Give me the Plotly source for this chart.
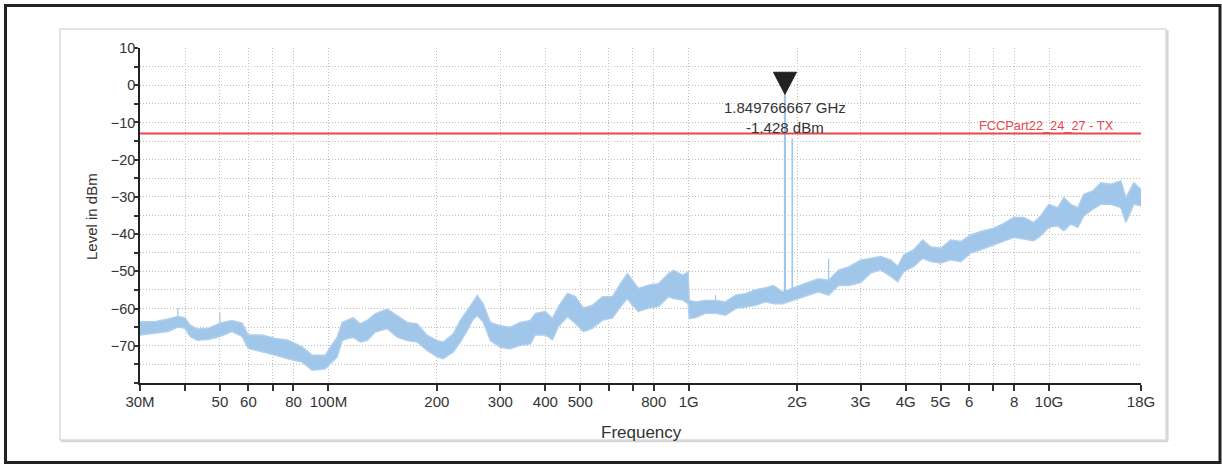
import math
import plotly.graph_objects as go

# ---------------- data ----------------
freq_mhz = [30.0, 33.0, 35.9, 38.2, 40.0, 41.3, 43.2, 46.4, 50.0, 54.0, 57.6, 59.9,
            65.5, 71.1, 77.3, 84.5, 90.1, 98.0, 101.2, 105.8, 109.2, 112.7, 117.2,
            122.5, 128.1, 134.8, 145.6, 155.2, 165.5, 176.4, 188.1, 200.5, 208.3,
            222.1, 232.3, 242.9, 252.4, 259.0, 269.1, 281.4, 300.0, 319.8, 341.0,
            363.5, 375.4, 400.0, 418.5, 434.9, 460.7, 484.9, 510.4, 540.4, 576.1,
            614.2, 646.3, 675.9, 697.8, 725.1, 773.1, 824.4, 878.9, 907.6, 961.2,
            996.0, 1004.0, 1044.6, 1113.0, 1187.0, 1265.0, 1349.0, 1438.0, 1533.0,
            1634.0, 1720.0, 1822.0, 2018.0, 2151.0, 2293.0, 2445.0, 2606.0, 2779.0,
            3000.0, 3199.0, 3411.0, 3636.0, 3802.0, 3951.0, 4212.0, 4461.0, 4694.0,
            5005.0, 5335.0, 5687.0, 6063.0, 6463.0, 7024.0, 7487.0, 7983.0, 8510.0,
            9072.0, 9487.0, 9985.0, 10575.0, 10991.0, 11494.0, 12020.0, 12488.0,
            13230.0, 13925.0, 14845.0, 15827.0, 16341.0, 17200.0, 18000.0]

level_max = [-63.5, -63.5, -62.8, -62.1, -62.5, -64.4, -65.5, -65.3, -63.9, -63.2, -63.9, -67.1,
             -67.1, -68.0, -68.5, -70.3, -72.5, -72.5, -70.4, -67.7, -63.7, -63.2, -62.5,
             -64.1, -63.2, -61.4, -60.1, -61.9, -63.7, -64.1, -67.2, -68.6, -69.0,
             -66.8, -63.2, -60.5, -57.9, -56.5, -58.8, -63.7, -64.6, -65.0, -63.7,
             -63.2, -61.3, -60.8, -62.6, -59.5, -55.9, -56.8, -59.9, -59.1, -56.8,
             -56.8, -53.3, -50.6, -52.4, -54.6, -53.7, -53.3, -50.6, -49.7, -51.0,
             -50.2, -57.8, -58.2, -57.8, -57.8, -58.2, -56.4, -56.0, -54.9,
             -54.4, -53.8, -55.5, -53.8, -52.9, -52.0, -52.4, -49.7, -48.8,
             -47.0, -46.5, -46.0, -46.9, -48.7, -45.6, -44.2, -41.6, -43.4,
             -43.8, -41.6, -42.0, -40.2, -39.3, -38.4, -37.1, -35.5, -35.5,
             -36.9, -35.1, -32.0, -32.9, -30.2, -32.0, -32.9, -29.3,
             -28.4, -26.2, -26.6, -25.7, -30.2, -26.2, -28.0]

level_min = [-67.1, -66.6, -66.2, -65.0, -65.3, -67.5, -68.5, -68.3, -67.5, -66.2, -67.5, -70.7,
             -71.6, -72.5, -73.5, -74.4, -76.6, -76.2, -74.8, -73.0, -68.6, -68.1, -67.7,
             -69.0, -68.6, -66.3, -65.4, -67.7, -68.6, -69.0, -71.3, -73.0, -73.5,
             -71.7, -69.0, -65.9, -62.8, -61.9, -63.7, -68.6, -70.4, -70.8, -69.9,
             -69.5, -67.1, -67.1, -68.4, -64.8, -62.2, -64.0, -66.2, -65.3, -63.1,
             -62.6, -59.5, -57.3, -59.1, -60.8, -59.9, -59.5, -56.8, -57.3, -57.7,
             -58.7, -62.7, -62.4, -61.3, -61.3, -61.8, -60.0, -59.6, -59.1,
             -58.2, -58.7, -58.7, -57.3, -56.4, -55.5, -56.4, -53.8, -53.8,
             -53.0, -50.5, -49.6, -51.4, -52.8, -50.1, -48.7, -46.5, -47.4,
             -47.8, -46.9, -47.4, -45.1, -44.2, -42.9, -42.0, -40.9, -41.3,
             -41.8, -40.4, -38.2, -37.8, -39.1, -37.3, -38.2, -35.1,
             -33.3, -32.0, -32.0, -32.9, -36.9, -32.0, -32.4]

# isolated narrow spikes on the noise floor
small_spike_mhz = [38.2, 50.0, 1187.0, 2445.0]
small_spike_base = [-62.1, -63.9, -57.8, -52.4]
small_spike_top = [-59.8, -61.2, -56.4, -46.6]

# carrier spikes
carrier_hz = [1849766667.0, 1938000000.0]
carrier_base = [-57.5, -56.5]
carrier_peak = [-1.428, -14.3]

limit_name = "FCCPart22_24_27 - TX"
limit_dbm = -13.0

x_tickvals_hz = [30e6, 40e6, 50e6, 60e6, 70e6, 80e6, 100e6, 200e6, 300e6, 400e6, 500e6,
                 600e6, 700e6, 800e6, 1e9, 2e9, 3e9, 4e9, 5e9, 6e9, 7e9, 8e9, 10e9, 18e9]
x_ticktext = ["30M", "", "50", "60", "", "80", "100M", "200", "300", "400", "500",
              "", "", "800", "1G", "2G", "3G", "4G", "5G", "6", "", "8", "10G", "18G"]
y_tickvals = [-70, -60, -50, -40, -30, -20, -10, 0, 10]

# ---------------- styling ----------------
BLUE = "#a0c6ea"
EDGE = "#b0cfee"
RED = "#e8474c"
TXT = "#333333"
FONT = "Liberation Sans, Arial, sans-serif"
GRID = "#bdbdbd"
GDASH = "1px,2px"

W, H = 1222, 464
L, R, T, B = 140, 81, 48, 81
PW, PH = W - L - R, H - T - B


def px2x(px):
    return (px - L) / PW


def py2y(py):
    return (H - B - py) / PH


freq_hz = [f * 1e6 for f in freq_mhz]
fig = go.Figure()

# noise band: upper envelope then lower envelope filled
fig.add_trace(go.Scatter(x=freq_hz, y=level_max, mode="lines",
                         line=dict(color=EDGE, width=1.4), hoverinfo="skip",
                         showlegend=False))
fig.add_trace(go.Scatter(x=freq_hz, y=level_min, mode="lines", fill="tonexty",
                         fillcolor=BLUE, line=dict(color=EDGE, width=1.4),
                         hoverinfo="skip", showlegend=False))

# narrow spikes
for f, b0, t0 in zip(small_spike_mhz, small_spike_base, small_spike_top):
    fig.add_trace(go.Scatter(x=[f * 1e6, f * 1e6], y=[b0, t0], mode="lines",
                             line=dict(color=BLUE, width=1.2), hoverinfo="skip",
                             showlegend=False))

# carrier spikes
for i, (f, b0, p0) in enumerate(zip(carrier_hz, carrier_base, carrier_peak)):
    fig.add_trace(go.Scatter(x=[f, f], y=[b0, p0], mode="lines",
                             line=dict(color=BLUE, width=2.2 if i == 0 else 1.6),
                             hoverinfo="skip", showlegend=False))

# limit line
fig.add_trace(go.Scatter(x=[x_tickvals_hz[0], x_tickvals_hz[-1]], y=[limit_dbm, limit_dbm],
                         mode="lines", line=dict(color=RED, width=2),
                         hoverinfo="skip", showlegend=False))

# marker triangle on the main carrier peak
f0, v0 = carrier_hz[0], carrier_peak[0]
half_dec = 11.5 / 360.0
tip = v0 - 1.0
tri_h = 22 / (PH / 90.0)
fig.add_trace(go.Scatter(x=[f0 * 10 ** (-half_dec), f0 * 10 ** half_dec, f0, f0 * 10 ** (-half_dec)],
                         y=[tip + tri_h, tip + tri_h, tip, tip + tri_h],
                         mode="lines", fill="toself", fillcolor="#222222",
                         line=dict(color="#222222", width=1), hoverinfo="skip",
                         showlegend=False))

annotations = [
    dict(x=math.log10(f0), y=v0, xref="x", yref="y",
         text=f"{f0 / 1e9:.9f} GHz<br>{v0:.3f} dBm", showarrow=False,
         xanchor="center", yanchor="top", yshift=-6,
         font=dict(family=FONT, size=15, color=TXT)),
    dict(x=px2x(1116), y=limit_dbm, xref="paper", yref="y", text=limit_name,
         showarrow=False, xanchor="right", yanchor="bottom", yshift=-1,
         font=dict(family="Liberation Sans Narrow, Arial Narrow, Liberation Sans, Arial",
                   size=12.8, color=RED)),
    dict(x=px2x(91), y=py2y(217), xref="paper", yref="paper", text="Level in dBm",
         textangle=-90, showarrow=False, xanchor="center", yanchor="middle",
         font=dict(family=FONT, size=15, color=TXT)),
    dict(x=px2x(641), y=py2y(432), xref="paper", yref="paper", text="Frequency",
         showarrow=False, xanchor="center", yanchor="middle",
         font=dict(family=FONT, size=17, color=TXT)),
]

shapes = [
    # outer black frame
    dict(type="rect", xref="paper", yref="paper",
         x0=px2x(5.5), x1=px2x(1220), y0=py2y(462.5), y1=py2y(5.5),
         line=dict(color="#222222", width=3), layer="below"),
    # inner light panel
    dict(type="rect", xref="paper", yref="paper",
         x0=px2x(60), x1=px2x(1166), y0=py2y(440), y1=py2y(29),
         line=dict(color="#dcdcdc", width=1.5), layer="below"),
    dict(type="line", xref="paper", yref="paper",
         x0=px2x(1167.5), x1=px2x(1167.5), y0=py2y(441), y1=py2y(30),
         line=dict(color="#d4d4d4", width=2), layer="below"),
    dict(type="line", xref="paper", yref="paper",
         x0=px2x(61), x1=px2x(1168), y0=py2y(441.2), y1=py2y(441.2),
         line=dict(color="#d4d4d4", width=2), layer="below"),
]

fig.update_layout(
    width=W, height=H,
    margin=dict(l=L, r=R, t=T, b=B, pad=0),
    paper_bgcolor="white", plot_bgcolor="white",
    showlegend=False, hovermode=False,
    annotations=annotations, shapes=shapes,
    font=dict(family=FONT, color=TXT),
)

fig.update_xaxes(
    type="log", range=[math.log10(x_tickvals_hz[0]), math.log10(x_tickvals_hz[-1])],
    tickmode="array", tickvals=x_tickvals_hz, ticktext=x_ticktext,
    ticks="outside", ticklen=6, tickwidth=1.5, tickcolor="#333333",
    tickfont=dict(family=FONT, size=15, color=TXT), ticklabelstandoff=-2,
    showline=True, linecolor="#222222", linewidth=1.6,
    showgrid=True, gridcolor=GRID, gridwidth=1, griddash=GDASH,
    zeroline=False,
)

fig.update_yaxes(
    range=[-80, 10], tickmode="array", tickvals=y_tickvals,
    ticks="outside", ticklen=4, tickwidth=1.5, tickcolor="#333333",
    tickfont=dict(family=FONT, size=14.5, color=TXT), ticklabelstandoff=-4,
    showline=True, linecolor="#222222", linewidth=1.6,
    showgrid=True, gridcolor=GRID, gridwidth=1, griddash=GDASH,
    minor=dict(tickmode="linear", tick0=-80, dtick=5, ticks="outside", ticklen=4,
               tickwidth=1.5, tickcolor="#333333", showgrid=True,
               gridcolor=GRID, gridwidth=1, griddash=GDASH),
    zeroline=False,
)

fig.write_html("out.html", config={"displayModeBar": False},
               post_script="document.documentElement.style.margin='0';"
                           "document.body.style.margin='0';document.body.style.padding='0';"
                           "document.body.style.overflow='hidden';")
